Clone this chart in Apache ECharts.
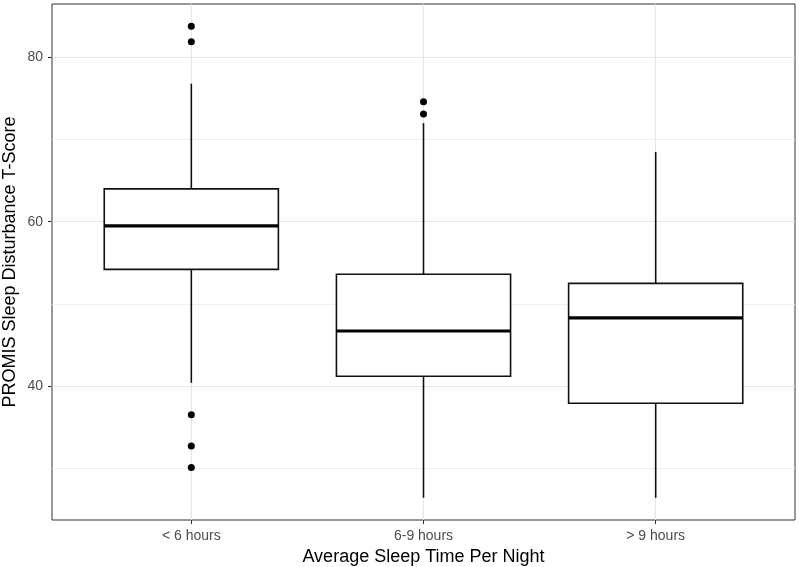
<!DOCTYPE html>
<html>
<head>
<meta charset="utf-8">
<script src="https://cdn.jsdelivr.net/npm/echarts@6/dist/echarts.min.js"></script>
<style>html,body{margin:0;padding:0;background:#fff}#c{width:799px;height:567px}</style>
</head>
<body>
<div id="c"></div>
<script>
const categories = ['< 6 hours', '6-9 hours', '> 9 hours'];
const whiskerLow = [40.4, 26.4, 26.4];
const q1 = [54.2, 41.2, 37.9];
const median = [59.5, 46.7, 48.3];
const q3 = [64.0, 53.6, 52.5];
const whiskerHigh = [76.8, 72.0, 68.5];
const outlierCategory = [0, 0, 0, 0, 0, 1, 1];
const outlierValue = [83.8, 81.9, 36.5, 32.7, 30.1, 74.6, 73.1];
const yMajorTicks = [40, 60, 80];
const yMinorTicks = [30, 50, 70];

const boxData = categories.map((c, i) => [i + 1, whiskerLow[i], q1[i], median[i], q3[i], whiskerHigh[i]]);
const outlierData = outlierValue.map((v, i) => [outlierCategory[i] + 1, v]);

const chart = echarts.init(document.getElementById('c'), null, {renderer: 'canvas'});
const FONT = 'Liberation Sans, Arial, sans-serif';
const option = {
  backgroundColor: '#ffffff',
  animation: false,
  grid: {left: 52, right: 4, top: 4, bottom: 47, outerBoundsMode: 'none', containLabel: false,
    show: true, borderColor: '#333333', borderWidth: 1, backgroundColor: 'transparent'},
  xAxis: {
    type: 'value', min: 0.4, max: 3.6,
    name: 'Average Sleep Time Per Night', nameLocation: 'middle', nameGap: 27,
    nameTextStyle: {fontFamily: FONT, fontSize: 18, color: '#000'},
    axisLine: {show: false},
    axisTick: {show: true, length: 4, customValues: [1, 2, 3], lineStyle: {color: '#333', width: 1}},
    axisLabel: {customValues: [1, 2, 3], margin: 9, fontFamily: FONT, fontSize: 14, color: '#4d4d4d',
      formatter: v => categories[Math.round(v) - 1]},
    splitLine: {show: true, lineStyle: {color: '#e6e6e6', width: 1}}
  },
  yAxis: [{
    type: 'value', min: 23.7, max: 86.5,
    name: 'PROMIS Sleep Disturbance T-Score', nameLocation: 'middle', nameGap: 33, nameMoveOverlap: false,
    nameTextStyle: {fontFamily: FONT, fontSize: 18, color: '#000'},
    axisLine: {show: false},
    axisTick: {show: true, length: 4, customValues: yMajorTicks, lineStyle: {color: '#333', width: 1}},
    axisLabel: {customValues: yMajorTicks, margin: 9, fontFamily: FONT, fontSize: 14, color: '#4d4d4d'},
    splitLine: {show: true, lineStyle: {color: '#e6e6e6', width: 1}}
  }, {
    type: 'value', min: 23.7, max: 86.5, position: 'left',
    axisLine: {show: false}, axisLabel: {show: false},
    axisTick: {show: false, customValues: yMinorTicks},
    splitLine: {show: true, lineStyle: {color: '#f1f1f1', width: 1}}
  }],
  series: [{
    type: 'custom',
    data: boxData,
    z: 3,
    renderItem: function (params, api) {
      const x = api.value(0);
      const half = 0.375;
      const lo = api.coord([x, api.value(1)]);
      const b1 = api.coord([x - half, api.value(2)]);
      const md1 = api.coord([x - half, api.value(3)]);
      const md2 = api.coord([x + half, api.value(3)]);
      const b3 = api.coord([x + half, api.value(4)]);
      const hi = api.coord([x, api.value(5)]);
      const stroke = {stroke: '#111', lineWidth: 1.6, fill: null};
      return {
        type: 'group',
        children: [
          {type: 'line', shape: {x1: lo[0], y1: lo[1], x2: lo[0], y2: b1[1]}, style: stroke},
          {type: 'line', shape: {x1: hi[0], y1: hi[1], x2: hi[0], y2: b3[1]}, style: stroke},
          {type: 'rect', shape: {x: b1[0], y: b3[1], width: b3[0] - b1[0], height: b1[1] - b3[1]},
            style: {fill: '#ffffff', stroke: '#111', lineWidth: 1.6}},
          {type: 'line', shape: {x1: md1[0], y1: md1[1], x2: md2[0], y2: md2[1]}, style: {stroke: '#000', lineWidth: 3.2}}
        ]
      };
    }
  }, {
    type: 'scatter',
    data: outlierData,
    symbol: 'circle', symbolSize: 7,
    itemStyle: {color: '#000', opacity: 1},
    z: 4
  }]
};
chart.setOption(option);
</script>
</body>
</html>
